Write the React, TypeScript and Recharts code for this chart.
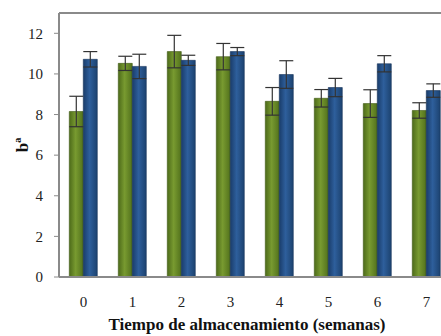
import React from "react";
import {
  BarChart,
  Bar,
  XAxis,
  YAxis,
  ErrorBar,
  ReferenceLine,
} from "recharts";

const weeks = ["0", "1", "2", "3", "4", "5", "6", "7"];
const greenValues = [8.15, 10.52, 11.1, 10.85, 8.65, 8.8, 8.54, 8.2];
const greenErrors = [0.75, 0.35, 0.8, 0.65, 0.68, 0.43, 0.68, 0.38];
const blueValues = [10.72, 10.37, 10.67, 11.1, 9.97, 9.33, 10.5, 9.18];
const blueErrors = [0.38, 0.6, 0.25, 0.2, 0.68, 0.45, 0.4, 0.33];
const yTicks = [0, 2, 4, 6, 8, 10, 12];

const data = weeks.map((week, i) => ({
  week,
  green: greenValues[i],
  greenErr: greenErrors[i],
  blue: blueValues[i],
  blueErr: blueErrors[i],
}));

const font = "'Liberation Serif', 'Times New Roman', serif";
const frame = "#8a8a8a";

export default function App() {
  // the original figure is cut off on the right, so clip the chart
  return (
    <div
      style={{
        width: 441,
        height: 336,
        padding: "8px 0 0 8px",
        boxSizing: "border-box",
        overflow: "hidden",
      }}
    >
      <style>{"body { margin: 0; }"}</style>
      <BarChart
        width={445}
        height={328}
        data={data}
        margin={{ top: 5, right: 2, bottom: 7, left: 0 }}
        barCategoryGap="21%"
        barGap={0}
      >
        <defs>
          <linearGradient id="gGreen" x1="0" y1="0" x2="1" y2="0">
            <stop offset="0%" stopColor="#4d6b1a" />
            <stop offset="45%" stopColor="#789a30" />
            <stop offset="100%" stopColor="#52711c" />
          </linearGradient>
          <linearGradient id="gBlue" x1="0" y1="0" x2="1" y2="0">
            <stop offset="0%" stopColor="#1a3d6b" />
            <stop offset="45%" stopColor="#2e5f9c" />
            <stop offset="100%" stopColor="#1c426f" />
          </linearGradient>
        </defs>
        <XAxis
          dataKey="week"
          axisLine={{ stroke: frame, strokeWidth: 2 }}
          tickLine={false}
          tickSize={6}
          tickMargin={13}
          height={52}
          tick={{ fill: "#222", fontSize: 15, fontFamily: font }}
          label={{
            value: "Tiempo de almacenamiento (semanas)",
            position: "insideBottom",
            offset: -1,
            dx: -8,
            style: {
              fontFamily: font,
              fontSize: 17,
              fontWeight: "bold",
              fill: "#111",
            },
          }}
        />
        <YAxis
          domain={[0, 13]}
          ticks={yTicks}
          width={51}
          axisLine={{ stroke: frame, strokeWidth: 2 }}
          tickLine={{ stroke: frame }}
          tickSize={5}
          tickMargin={11}
          tick={{ fill: "#222", fontSize: 15, fontFamily: font }}
          label={{
            value: "bª",
            angle: -90,
            position: "insideLeft",
            offset: 14,
            style: {
              fontFamily: font,
              fontSize: 17,
              fontWeight: "bold",
              fill: "#111",
              textAnchor: "middle",
            },
          }}
        />
        <ReferenceLine y={13} stroke={frame} strokeWidth={2} />
        <Bar
          dataKey="green"
          fill="url(#gGreen)"
          stroke="#3f5a14"
          strokeWidth={0.6}
          isAnimationActive={false}
        >
          <ErrorBar dataKey="greenErr" width={7} stroke="#333" strokeWidth={1.2} />
        </Bar>
        <Bar
          dataKey="blue"
          fill="url(#gBlue)"
          stroke="#15335a"
          strokeWidth={0.6}
          isAnimationActive={false}
        >
          <ErrorBar dataKey="blueErr" width={7} stroke="#333" strokeWidth={1.2} />
        </Bar>
      </BarChart>
    </div>
  );
}
